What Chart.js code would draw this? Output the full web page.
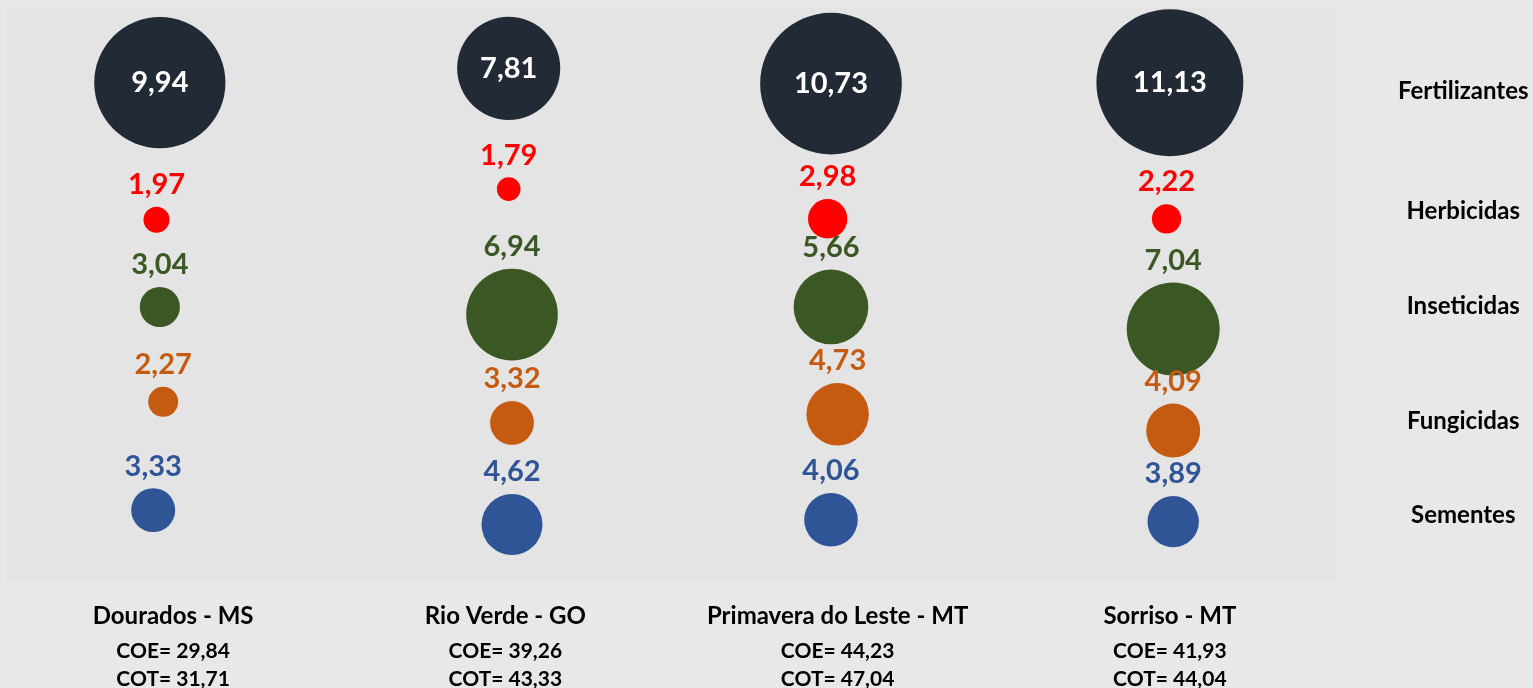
<!DOCTYPE html>
<html>
<head>
<meta charset="utf-8">
<script src="https://cdn.jsdelivr.net/npm/chart.js@4/dist/chart.umd.min.js"></script>
<style>
  html, body { margin: 0; padding: 0; background: #e8e7ea; }
</style>
</head>
<body>
<canvas id="myChart" width="1533" height="688"></canvas>
<script>
// cities along the bottom, with COE / COT totals
var cities = ['Dourados - MS', 'Rio Verde - GO', 'Primavera do Leste - MT', 'Sorriso - MT'];
var coe = [29.84, 39.26, 44.23, 41.93];
var cot = [31.71, 43.33, 47.04, 44.04];

// input categories (right side) and where they sit on the y scale
var categories = ['Fertilizantes', 'Herbicidas', 'Inseticidas', 'Fungicidas', 'Sementes'];
var categoryY = [5.12, 3.87, 2.88, 1.68, 0.70];

// values per city (bubble size + label)
var fertilizantes = [9.94, 7.81, 10.73, 11.13];
var herbicidas = [1.97, 1.79, 2.98, 2.22];
var inseticidas = [3.04, 6.94, 5.66, 7.04];
var fungicidas = [2.27, 3.32, 4.73, 4.09];
var sementes = [3.33, 4.62, 4.06, 3.89];

// bubble positions (x = city slot, y = row)
var fertX = [0.96, 2.01, 2.98, 4.00];
var fertY = [5.21, 5.36, 5.20, 5.21];
var herbX = [0.95, 2.01, 2.97, 3.99];
var herbY = [3.78, 4.10, 3.79, 3.79];
var inseX = [0.96, 2.02, 2.98, 4.01];
var inseY = [2.87, 2.79, 2.87, 2.64];
var fungX = [0.97, 2.02, 3.00, 4.01];
var fungY = [1.88, 1.66, 1.75, 1.58];
var semeX = [0.94, 2.02, 2.98, 4.01];
var semeY = [0.75, 0.60, 0.65, 0.63];

var FONT = 'Lato, "Open Sans", sans-serif';
var PX_PER_UNIT = 6.6;  // bubble radius per value unit

function pts(xs, ys, vs) {
  return vs.map(function (v, i) { return { x: xs[i], y: ys[i], v: v }; });
}
function fmt(v) { return v.toFixed(2).replace('.', ','); }

function series(label, xs, ys, vs, color) {
  return {
    label: label,
    data: pts(xs, ys, vs),
    backgroundColor: color,
    borderWidth: 0,
    radius: function (c) { return c.raw ? c.raw.v * PX_PER_UNIT : 0; }
  };
}

var bgPlugin = {
  id: 'areaBg',
  beforeDraw: function (chart) {
    var a = chart.chartArea, ctx = chart.ctx;
    ctx.save();
    ctx.fillStyle = '#e8e7ea';
    ctx.fillRect(0, 0, chart.width, chart.height);
    ctx.fillStyle = '#e4e4e4';
    ctx.fillRect(a.left, a.top, a.right - a.left, a.bottom - a.top);
    ctx.restore();
  }
};

var labelPlugin = {
  id: 'valueLabels',
  afterDatasetsDraw: function (chart) {
    var ctx = chart.ctx;
    ctx.save();
    ctx.textAlign = 'center';
    ctx.textBaseline = 'middle';
    ctx.font = 'bold 29px ' + FONT;
    chart.data.datasets.forEach(function (ds, di) {
      var meta = chart.getDatasetMeta(di);
      meta.data.forEach(function (el, i) {
        var v = ds.data[i].v;
        if (di === 0) {
          ctx.fillStyle = '#ffffff';
          ctx.fillText(fmt(v), el.x, el.y);
        } else {
          ctx.fillStyle = ds.backgroundColor;
          ctx.fillText(fmt(v), el.x, el.y - el.options.radius - 22);
        }
      });
    });
    // COE / COT lines under the city names
    var xs = chart.scales.x;
    ctx.fillStyle = '#000000';
    ctx.font = 'bold 21px ' + FONT;
    cities.forEach(function (c, i) {
      var x = xs.getPixelForValue(i + 1);
      ctx.fillText('COE= ' + fmt(coe[i]), x, 651);
      ctx.fillText('COT= ' + fmt(cot[i]), x, 679);
    });
    ctx.restore();
  }
};

var ctx = document.getElementById('myChart').getContext('2d');
var chart = new Chart(ctx, {
  type: 'bubble',
  data: {
    datasets: [
      series('Fertilizantes', fertX, fertY, fertilizantes, '#222a35'),
      series('Herbicidas', herbX, herbY, herbicidas, '#ff0000'),
      series('Inseticidas', inseX, inseY, inseticidas, '#3a5724'),
      series('Fungicidas', fungX, fungY, fungicidas, '#c55a11'),
      series('Sementes', semeX, semeY, sementes, '#2f5597')
    ]
  },
  options: {
    responsive: false,
    animation: false,
    events: [],
    layout: { autoPadding: false, padding: { left: 7, top: 7, right: 0, bottom: 0 } },
    plugins: { legend: { display: false }, tooltip: { enabled: false } },
    scales: {
      x: {
        type: 'linear',
        min: 0.5,
        max: 4.5,
        afterBuildTicks: function (s) { s.ticks = cities.map(function (c, i) { return { value: i + 1 }; }); },
        afterFit: function (s) { s.height = 106; s.paddingLeft = 0; s.paddingRight = 0; },
        grid: { display: false, drawTicks: false },
        border: { display: false },
        ticks: {
          autoSkip: false,
          maxRotation: 0,
          padding: 20,
          color: '#000000',
          font: { family: FONT, size: 24, weight: 'bold' },
          callback: function (v, i) { return cities[i]; }
        }
      },
      y: {
        type: 'linear',
        position: 'right',
        min: 0,
        max: 6,
        afterBuildTicks: function (s) { s.ticks = categoryY.map(function (v) { return { value: v }; }); },
        afterFit: function (s) { s.width = 197; s.paddingTop = 0; s.paddingBottom = 0; },
        grid: { display: false, drawTicks: false },
        border: { display: false },
        ticks: {
          autoSkip: false,
          crossAlign: 'center',
          padding: 62,
          color: '#000000',
          font: { family: FONT, size: 24, weight: 'bold' },
          callback: function (v, i) { return categories[i]; }
        }
      }
    }
  },
  plugins: [bgPlugin, labelPlugin]
});
</script>
</body>
</html>
